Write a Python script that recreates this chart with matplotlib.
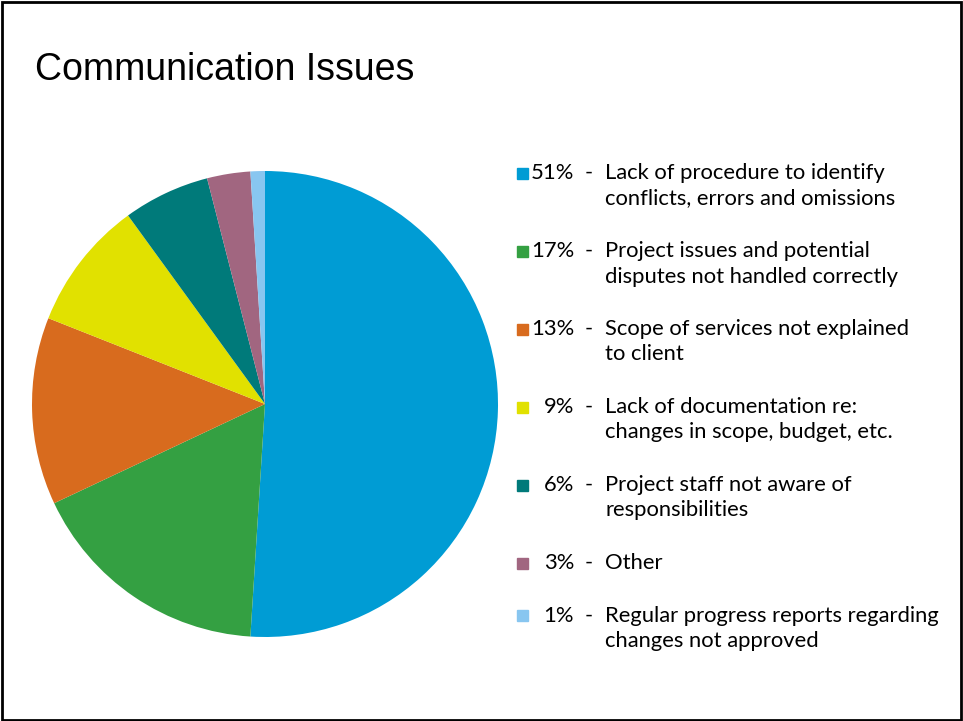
import matplotlib
matplotlib.use("Agg")
import matplotlib.pyplot as plt
from matplotlib.patches import Rectangle

# share of communication issues (percent)
shares = [51, 17, 13, 9, 6, 3, 1]
labels = [
    "Lack of procedure to identify\nconflicts, errors and omissions",
    "Project issues and potential\ndisputes not handled correctly",
    "Scope of services not explained\nto client",
    "Lack of documentation re:\nchanges in scope, budget, etc.",
    "Project staff not aware of\nresponsibilities",
    "Other",
    "Regular progress reports regarding\nchanges not approved",
]
colors = ["#009cd4", "#34a042", "#d86b1e", "#e1e100", "#007a7a", "#a16680", "#88c6f0"]

W, H = 963, 721
fig = plt.figure(figsize=(W / 100, H / 100), dpi=100)

# pie, centred at (265, 404) px with radius 233 px
cx, cy, r = 265, 404, 233
ax = fig.add_axes([(cx - r) / W, (H - cy - r) / H, 2 * r / W, 2 * r / H])
ax.pie(shares, colors=colors, startangle=90, counterclock=False, radius=1,
       wedgeprops=dict(linewidth=0))
ax.set_xlim(-1, 1)
ax.set_ylim(-1, 1)
ax.set_aspect("auto")
ax.axis("off")

fig.text(35 / W, 1 - 70 / H, "Communication Issues", fontsize=27,
         family="Liberation Sans", va="center", ha="left")

# legend drawn by hand
font = "Lato"
fs = 15.8
line_h = 25.5
gap = 27
y = 173
for share, label, c in zip(shares, labels, colors):
    fig.patches.append(Rectangle((517 / W, 1 - (y + 5.5) / H), 11 / W, 11 / H,
                                 transform=fig.transFigure, color=c))
    fig.text(574 / W, 1 - y / H, f"{share}%", fontsize=fs, family=font,
             ha="right", va="center")
    fig.text(589 / W, 1 - y / H, "-", fontsize=fs, family=font,
             ha="center", va="center")
    lines = label.split("\n")
    for i, ln in enumerate(lines):
        fig.text(605 / W, 1 - (y + i * line_h) / H, ln, fontsize=fs, family=font,
                 ha="left", va="center")
    y += len(lines) * line_h + gap

# slide frame
fig.patches.append(Rectangle((2 / W, 1.5 / H), (W - 4) / W, (H - 3.5) / H,
                             transform=fig.transFigure, fill=False,
                             edgecolor="black", linewidth=2))

fig.savefig("out.png", dpi=100, facecolor="white")
